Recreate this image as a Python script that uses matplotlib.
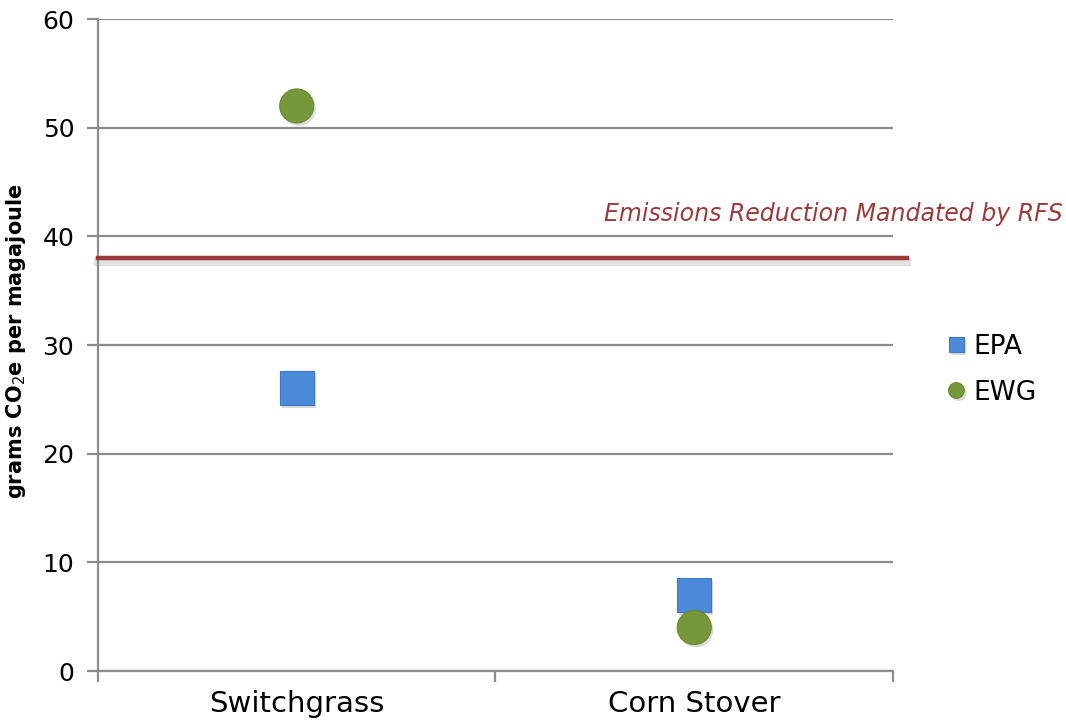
"""Lifecycle emissions of cellulosic feedstocks, EPA vs EWG estimates."""

import matplotlib.pyplot as plt
import matplotlib.patheffects as pe

# Feedstocks and the two sets of estimates (grams CO2e per megajoule)
feedstocks = ["Switchgrass", "Corn Stover"]
epa_values = [26, 7]
ewg_values = [52, 4]
rfs_threshold = 38

y_ticks = [0, 10, 20, 30, 40, 50, 60]

GRID = "#8c8c8c"
RED = "#9b3a3a"
BLUE = "#4a8ad8"
GREEN = "#76983a"

plt.rcParams["font.family"] = ["DejaVu Sans"]

fig = plt.figure(figsize=(10.66, 7.23), dpi=100)
ax = fig.add_axes([0.0919, 0.0719, 0.7458, 0.9018])

shadow = [pe.SimplePatchShadow(offset=(1.5, -2), shadow_rgbFace="#999999", alpha=0.35), pe.Normal()]
line_shadow = [pe.SimpleLineShadow(offset=(0, -3), shadow_color="#888888", alpha=0.25, linewidth=6), pe.Normal()]

# gridlines and axes
for v in y_ticks:
    ax.axhline(v, color=GRID, lw=1.6, zorder=1)
for side in ["top", "right"]:
    ax.spines[side].set_visible(False)
for side in ["left", "bottom"]:
    ax.spines[side].set_color(GRID)
    ax.spines[side].set_linewidth(1.6)

# RFS mandated reduction line, running a little past the plot area
ax.axhline(rfs_threshold, xmin=0, xmax=1.018, color=RED, lw=3.2, clip_on=False,
           zorder=3, path_effects=line_shadow)
fig.text(0.997, 0.704, "Emissions Reduction Mandated by RFS", color=RED,
         fontsize=17, style="italic", ha="right", va="center")

positions = [i + 0.5 for i in range(len(feedstocks))]
ax.plot(positions, epa_values, ls="none", marker="s", ms=24.5, color=BLUE,
        mec="#3d78c4", mew=0.8, label="EPA", zorder=4, path_effects=shadow)
ax.plot(positions, ewg_values, ls="none", marker="o", ms=24.5, color=GREEN,
        mec="#6a8a30", mew=0.8, label="EWG", zorder=5, path_effects=shadow)

ax.set_xlim(0, len(feedstocks))
ax.set_ylim(0, 60)
ax.set_xticks(range(len(feedstocks) + 1))
ax.set_xticklabels([])
ax.set_xticks(positions, minor=True)
ax.set_xticklabels(feedstocks, minor=True, fontsize=21)
ax.tick_params(axis="x", which="major", length=8, width=1.6, color=GRID, direction="out")
ax.tick_params(axis="x", which="minor", length=0, pad=14)
ax.set_yticks(y_ticks)
ax.tick_params(axis="y", length=8, width=1.6, color=GRID, direction="out",
               labelsize=18, pad=9)

ax.set_ylabel("grams CO$_2$e per magajoule", fontsize=15, fontweight="bold")
ax.yaxis.set_label_coords(-0.088, 0.506)

leg = ax.legend(loc="center left", bbox_to_anchor=(1.03, 0.462), frameon=False,
                fontsize=19, markerscale=0.46, handletextpad=0.05, labelspacing=0.75,
                handlelength=1.2)

fig.savefig("out.png", dpi=100)
